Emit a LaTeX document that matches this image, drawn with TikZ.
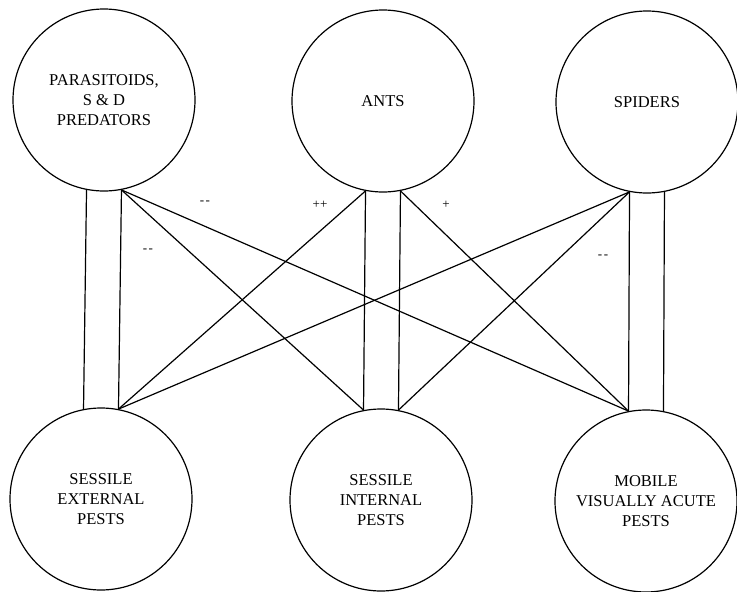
\documentclass[tikz,border=0pt]{standalone}
\usepackage{fontspec}
\setmainfont{Liberation Serif}
\begin{document}
\begin{tikzpicture}[x=1pt, y=-1pt, line width=1.2pt,
	pop/.style={draw, circle, minimum size=182pt, inner sep=0pt,
		align=center, font=\fontsize{16.5}{20}\selectfont},
	sign/.style={font=\fontsize{13}{14}\selectfont, inner sep=0pt}]
\useasboundingbox (0,0) rectangle (737,592);
\node[pop] (pd) at (104,100) {PARASITOIDS,\\S \& D\\PREDATORS};
\node[pop] (ant) at (383,101) {ANTS};
\node[pop] (spi) at (647,102) {SPIDERS};
\node[pop] (sx) at (101,499) {SESSILE\\EXTERNAL\\PESTS};
\node[pop] (si) at (381,500) {SESSILE\\INTERNAL\\PESTS};
\node[pop] (mv) at (646,501) {MOBILE\\VISUALLY ACUTE\\PESTS};
\foreach \t/\b in {pd/sx, ant/si, spi/mv} \draw
	(\t.259) -- (\b.101)
	(\t.281) -- (\b.79);
\draw (pd.281) edge (si.101) edge (mv.101)
	(ant.259) edge (sx.79)
	(ant.281) edge (mv.101)
	(spi.259) edge (sx.79) edge (si.79);
\node[sign] (s1) at (205,203) {-\kern1.5pt-};
\node[sign] (s2) at (148,251) {-\kern1.5pt-};
\node[sign] (s3) at (320,205) {++};
\node[sign] (s4) at (446,205) {+};
\node[sign] (s5) at (603,257) {-\kern1.5pt-};
\end{tikzpicture}
\end{document}
